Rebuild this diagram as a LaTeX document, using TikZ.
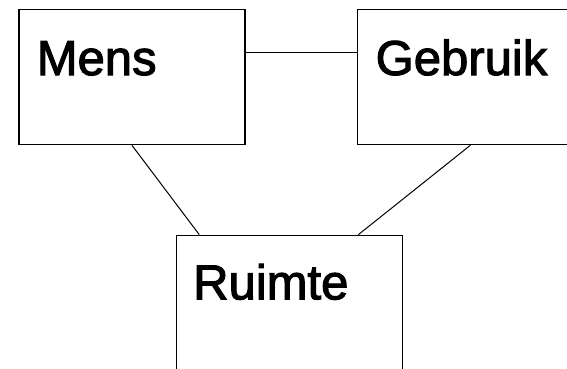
\documentclass[tikz,border=0pt]{standalone}
\usepackage{fontspec}
\setmainfont{Liberation Sans}
\newfontfamily\medfont[FakeBold=2.2]{Liberation Sans}
\begin{document}
\begin{tikzpicture}[x=1pt,y=-1pt,
  box/.style={draw, line width=1.3pt, minimum width=226pt, minimum height=135pt, inner sep=0pt, anchor=north west},
  lbl/.style={anchor=base west, inner sep=0pt, font=\medfont\fontsize{49}{49}\selectfont},
  link/.style={line width=1pt}]
\useasboundingbox (0,0) rectangle (567,369);
\clip (0,0) rectangle (567,369);
\node[box] (mens) at (18.3,9) {};
\node[box] (gebruik) at (356.7,9) {};
\node[box] (ruimte) at (176,234.7) {};
\node[lbl] (mensT) at (36.6,75) {Mens};
\node[lbl] (gebruikT) at (375.5,75) {Gebruik};
\node[lbl] (ruimteT) at (193,299.3) {Ruimte};
\coordinate (h) at (0,53);
\coordinate (a1) at (199.3,0);
\coordinate (a2) at (358.3,0);
\draw[link] (mens.east |- h) -- (gebruik.west |- h);
\draw[link] (mens.south) -- (a1 |- ruimte.north);
\draw[link] (gebruik.south) -- (a2 |- ruimte.north);
\end{tikzpicture}
\end{document}
